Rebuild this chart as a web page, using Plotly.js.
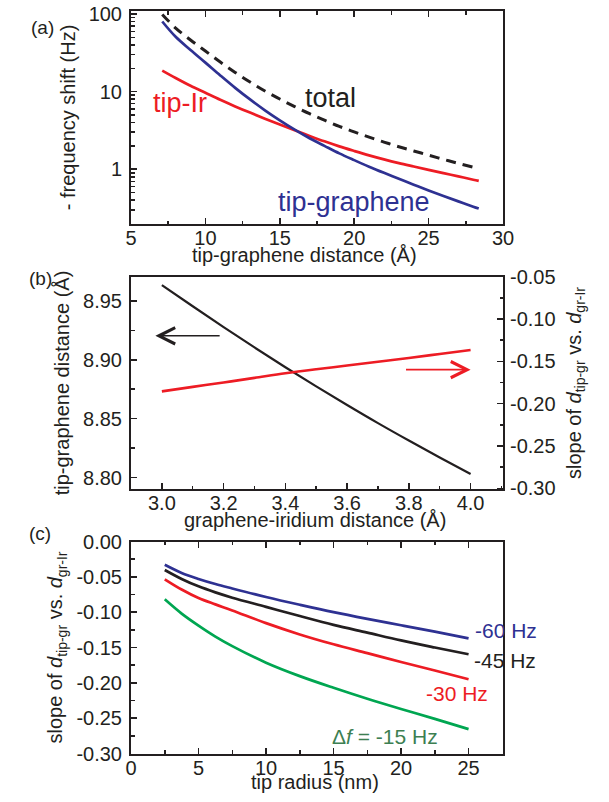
<!DOCTYPE html>
<html>
<head>
<meta charset="utf-8">
<script src="https://cdn.plot.ly/plotly-3.0.1.min.js"></script>
<style>html,body{margin:0;padding:0;background:#fff;}#chart{width:609px;height:802px;}</style>
</head>
<body>
<div id="chart"></div>
<script>
// ---------- Panel (a): frequency shift vs tip-graphene distance ----------
const aDist        = [7.1, 8, 9, 10, 11, 12, 13, 14, 15, 16, 17, 18, 19, 20, 21, 22, 23, 24, 25, 26, 27, 28, 28.37];
const aTipGraphene = [80.3, 51.0, 34.5, 23.7, 16.2, 11.2, 7.94, 5.75, 4.27, 3.24, 2.51, 2.0, 1.60, 1.31, 1.08, 0.90, 0.754, 0.632, 0.533, 0.452, 0.385, 0.329, 0.311];
const aTipIr       = [18.7, 15.0, 11.9, 9.66, 7.85, 6.46, 5.37, 4.49, 3.77, 3.18, 2.69, 2.29, 1.97, 1.72, 1.51, 1.34, 1.20, 1.084, 0.982, 0.891, 0.809, 0.733, 0.708];
const aTotal       = [99.0, 66.0, 46.4, 33.4, 24.1, 17.7, 13.3, 10.2, 8.04, 6.42, 5.20, 4.29, 3.57, 3.03, 2.59, 2.24, 1.95, 1.72, 1.52, 1.34, 1.19, 1.06, 1.02];

// ---------- Panel (b): tip-graphene distance and slope vs graphene-Ir distance ----------
const bDist   = [3.0, 3.1, 3.2, 3.3, 3.4, 3.5, 3.6, 3.7, 3.8, 3.9, 4.0];
const bTipGr  = [8.9635, 8.9455, 8.9278, 8.9105, 8.8937, 8.8774, 8.8616, 8.8462, 8.8314, 8.8170, 8.8030];
const bSlope  = [-0.1855, -0.1802, -0.1750, -0.1695, -0.1640, -0.1593, -0.1550, -0.1505, -0.1460, -0.1413, -0.1366];

// ---------- Panel (c): slope vs tip radius for several frequency shifts ----------
const cRadius = [2.5, 3.75, 5, 6.25, 7.5, 10, 12.5, 15, 17.5, 20, 22.5, 25];
const cHz60   = [-0.0330, -0.0445, -0.0530, -0.0602, -0.0665, -0.0785, -0.0895, -0.1000, -0.1095, -0.1185, -0.1275, -0.1370];
const cHz45   = [-0.0403, -0.0530, -0.0635, -0.0720, -0.0795, -0.0925, -0.1055, -0.1180, -0.1290, -0.1400, -0.1500, -0.1596];
const cHz30   = [-0.0535, -0.0680, -0.0800, -0.0890, -0.0975, -0.1155, -0.1315, -0.1455, -0.1580, -0.1705, -0.1825, -0.1950];
const cHz15   = [-0.0818, -0.1020, -0.1190, -0.1345, -0.1480, -0.1715, -0.1905, -0.2070, -0.2225, -0.2370, -0.2510, -0.2655];

// tick labels
const aYTickVals = [1, 10, 100];
const aYTickText = ['1', '10', '100'];
const bLeftTickVals = [8.80, 8.85, 8.90, 8.95];
const bLeftTickText = ['8.80', '8.85', '8.90', '8.95'];
const bRightTickVals = [-0.30, -0.25, -0.20, -0.15, -0.10, -0.05];
const bRightTickText = ['-0.30', '-0.25', '-0.20', '-0.15', '-0.10', '-0.05'];
const cYTickVals = [-0.30, -0.25, -0.20, -0.15, -0.10, -0.05, 0.00];
const cYTickText = ['-0.30', '-0.25', '-0.20', '-0.15', '-0.10', '-0.05', '0.00'];

const BLACK = '#231f20', RED = '#ed1c24', BLUE = '#2e3192', GREEN = '#00a651', GREENTXT = '#3d7f52';
const FONT = 'Liberation Sans, Arial, Helvetica, sans-serif';

const traces = [
  {x: aDist, y: aTipIr, xaxis: 'x', yaxis: 'y', mode: 'lines', line: {color: RED, width: 2.7, shape: 'spline'}, name: 'tip-Ir'},
  {x: aDist, y: aTipGraphene, xaxis: 'x', yaxis: 'y', mode: 'lines', line: {color: BLUE, width: 2.7, shape: 'spline'}, name: 'tip-graphene'},
  {x: aDist, y: aTotal, xaxis: 'x', yaxis: 'y', mode: 'lines', line: {color: BLACK, width: 3, dash: '10px,7px', shape: 'spline'}, name: 'total'},
  {x: bDist, y: bTipGr, xaxis: 'x2', yaxis: 'y2', mode: 'lines', line: {color: BLACK, width: 2.2, shape: 'spline'}, name: 'tip-graphene distance'},
  {x: bDist, y: bSlope, xaxis: 'x2', yaxis: 'y3', mode: 'lines', line: {color: RED, width: 2.6, shape: 'spline'}, name: 'slope'},
  {x: cRadius, y: cHz60, xaxis: 'x3', yaxis: 'y4', mode: 'lines', line: {color: BLUE, width: 2.7, shape: 'spline'}, name: '-60 Hz'},
  {x: cRadius, y: cHz45, xaxis: 'x3', yaxis: 'y4', mode: 'lines', line: {color: BLACK, width: 2.7, shape: 'spline'}, name: '-45 Hz'},
  {x: cRadius, y: cHz30, xaxis: 'x3', yaxis: 'y4', mode: 'lines', line: {color: RED, width: 2.7, shape: 'spline'}, name: '-30 Hz'},
  {x: cRadius, y: cHz15, xaxis: 'x3', yaxis: 'y4', mode: 'lines', line: {color: GREEN, width: 2.7, shape: 'spline'}, name: '-15 Hz'}
];

const tickFont = {family: FONT, size: 20, color: BLACK};
const titleFont = {family: FONT, size: 20, color: BLACK};
function axBase(extra) {
  return Object.assign({
    showline: true, linewidth: 2, linecolor: BLACK, showgrid: false, zeroline: false,
    ticks: 'inside', ticklen: 6, tickwidth: 1.5, tickcolor: BLACK, tickfont: tickFont
  }, extra);
}
function minorTicks(tick0, dtick) {
  return {ticks: 'inside', ticklen: 3.5, tickwidth: 1.5, tickcolor: BLACK, tick0: tick0, dtick: dtick};
}
const XDOM = [131/609, 503/609];
const slopeTitle = 'slope of <i>d</i><sub>tip-gr</sub> vs. <i>d</i><sub>gr-Ir</sub>';

const layout = {
  width: 609, height: 802,
  margin: {l: 0, r: 0, t: 0, b: 0},
  paper_bgcolor: '#ffffff', plot_bgcolor: '#ffffff',
  showlegend: false,
  font: {family: FONT, size: 20, color: BLACK},
  // panel (a)
  xaxis: axBase({domain: XDOM, anchor: 'y', range: [5, 30], tick0: 5, dtick: 5, mirror: 'ticks', ticklabelstandoff: -5,
    minor: minorTicks(5, 2.5)}),
  yaxis: axBase({domain: [1 - 224/802, 1 - 11/802], anchor: 'x', type: 'log', range: [-0.706, 2.04], mirror: true,
    tickvals: aYTickVals, ticktext: aYTickText, ticklabelstandoff: 3,
    minor: {ticks: 'inside', ticklen: 3.5, tickwidth: 1.5, tickcolor: BLACK, dtick: 'D1'},
    title: {text: '- frequency shift (Hz)', font: titleFont, standoff: 8}}),
  // panel (b)
  xaxis2: axBase({domain: XDOM, anchor: 'y2', range: [2.9, 4.105], tick0: 3.0, dtick: 0.2, tickformat: '.1f', mirror: true, ticklabelstandoff: -5,
    minor: minorTicks(3.0, 0.1)}),
  yaxis2: axBase({domain: [1 - 489.3/802, 1 - 276.7/802], anchor: 'x2', range: [8.79, 8.9706], side: 'left',
    tickvals: bLeftTickVals, ticktext: bLeftTickText, ticklabelstandoff: 3,
    minor: minorTicks(8.8, 0.025),
    title: {text: 'tip-graphene distance (Å)', font: titleFont, standoff: 8}}),
  yaxis3: axBase({overlaying: 'y2', anchor: 'x2', side: 'right', range: [-0.3012, -0.05],
    tickvals: bRightTickVals, ticktext: bRightTickText, ticklabelstandoff: 1,
    minor: minorTicks(-0.3, 0.025),
    title: {text: slopeTitle, font: titleFont, standoff: 12}}),
  // panel (c)
  xaxis3: axBase({domain: XDOM, anchor: 'y4', range: [0, 27.55], tick0: 0, dtick: 5, mirror: 'ticks', ticklabelstandoff: -5,
    minor: minorTicks(0, 2.5)}),
  yaxis4: axBase({domain: [1 - 753.5/802, 1 - 541.5/802], anchor: 'x3', range: [-0.3, 0], mirror: true,
    tickvals: cYTickVals, ticktext: cYTickText, ticklabelstandoff: 3,
    minor: minorTicks(0, 0.025),
    title: {text: slopeTitle, font: titleFont, standoff: 8}}),
  annotations: [
    // x-axis titles
    {text: 'tip-graphene distance (Å)', xref: 'paper', yref: 'paper', x: 304/609, y: 1 - 255/802, yanchor: 'middle', showarrow: false, font: titleFont},
    {text: 'graphene-iridium distance (Å)', xref: 'paper', yref: 'paper', x: 315/609, y: 1 - 520/802, yanchor: 'middle', showarrow: false, font: titleFont},
    {text: 'tip radius (nm)', xref: 'paper', yref: 'paper', x: 315/609, y: 1 - 782/802, yanchor: 'middle', showarrow: false, font: titleFont},
    // panel letters
    {text: '(a)', xref: 'paper', yref: 'paper', x: 29/609, y: 1 - 15.5/802, showarrow: false, font: {size: 19, color: BLACK}},
    {text: '(b)', xref: 'paper', yref: 'paper', x: 27/609, y: 1 - 278/802, showarrow: false, font: {size: 19, color: BLACK}},
    {text: '(c)', xref: 'paper', yref: 'paper', x: 27/609, y: 1 - 546/802, showarrow: false, font: {size: 19, color: BLACK}},
    // panel (a) labels
    {text: 'tip-Ir', xref: 'x', yref: 'y', x: 8.29, y: 0.855, showarrow: false, font: {size: 27, color: RED}},
    {text: 'total', xref: 'x', yref: 'y', x: 18.44, y: 0.913, showarrow: false, font: {size: 27, color: BLACK}},
    {text: 'tip-graphene', xref: 'x', yref: 'y', x: 19.99, y: -0.416, showarrow: false, font: {size: 27, color: BLUE}},
    // panel (b) arrows
    {text: '', xref: 'x2', yref: 'y2', axref: 'x2', ayref: 'y2', x: 2.979, y: 8.9204, ax: 3.192, ay: 8.9204,
      showarrow: true, arrowhead: 5, arrowsize: 2.0, arrowwidth: 1.6, arrowcolor: BLACK, standoff: 0},
    {text: '', xref: 'x2', yref: 'y3', axref: 'x2', ayref: 'y3', x: 4.0, y: -0.1598, ax: 3.786, ay: -0.1598,
      showarrow: true, arrowhead: 5, arrowsize: 2.0, arrowwidth: 1.6, arrowcolor: RED, standoff: 0},
    // panel (c) labels
    {text: '-60 Hz', xref: 'x3', yref: 'y4', x: 25.33, y: -0.1266, xanchor: 'left', showarrow: false, font: {size: 21, color: BLUE}},
    {text: '-45 Hz', xref: 'x3', yref: 'y4', x: 25.25, y: -0.169, xanchor: 'left', showarrow: false, font: {size: 21, color: BLACK}},
    {text: '-30 Hz', xref: 'x3', yref: 'y4', x: 24.16, y: -0.215, showarrow: false, font: {size: 21, color: RED}},
    {text: '\u0394<i>f</i> = -15 Hz', xref: 'x3', yref: 'y4', x: 18.79, y: -0.276, showarrow: false, font: {size: 21, color: GREENTXT}}
  ]
};

Plotly.newPlot('chart', traces, layout, {staticPlot: true, displayModeBar: false});
</script>
</body>
</html>
